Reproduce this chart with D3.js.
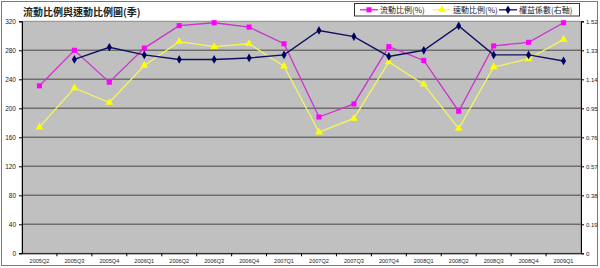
<!DOCTYPE html>
<html><head><meta charset="utf-8">
<script src="https://cdn.jsdelivr.net/npm/d3@7"></script>
<style>body{margin:0;background:#fff}svg{display:block}</style>
</head><body>
<svg id="c" width="600" height="268"></svg>
<script>
const categories = ["2005Q2","2005Q3","2005Q4","2006Q1","2006Q2","2006Q3","2006Q4","2007Q1","2007Q2","2007Q3","2007Q4","2008Q1","2008Q2","2008Q3","2008Q4","2009Q1"];
const currentRatio = [231,280,236,283,314,318,312,289,188,206,285,266,196,286,291,318];
const quickRatio = [174,228,208,259,292,285,289,258,167,186,264,233,172,257,268,295];
const equityMultiplier = [null,1.27,1.35,1.30,1.27,1.27,1.28,1.30,1.46,1.42,1.29,1.33,1.49,1.30,1.30,1.26];
const leftTicks = [0,40,80,120,160,200,240,280,320];
const rightTicks = [0,0.19,0.38,0.57,0.76,0.95,1.14,1.33,1.52];
const seriesNames = ["流動比例(%)","速動比例(%)","權益係數(右軸)"];
const title = "流動比例與速動比例圖(季)";

const svg = d3.select("#c");
const X0=22, X1=581, Y0=21.3, Y1=253.3;
const x = d3.scaleBand().domain(categories).range([X0,X1]);
const yL = d3.scaleLinear().domain([0,320]).range([Y1,Y0]);
const yR = d3.scaleLinear().domain([0,1.52]).range([Y1,Y0]);
const cx = d => x(d)+x.bandwidth()/2;

// outer frame
svg.append("rect").attr("x",1.5).attr("y",1.5).attr("width",596).attr("height",264)
  .attr("fill","#fff").attr("stroke","#7a7a7a").attr("stroke-width",1);

// plot area
svg.append("rect").attr("x",X0).attr("y",Y0).attr("width",X1-X0).attr("height",Y1-Y0)
  .attr("fill","#c0c0c0").attr("stroke","#8a8a8a").attr("stroke-width",1);

// gridlines
svg.append("g").selectAll("line").data(leftTicks.slice(1,-1)).join("line")
  .attr("x1",X0).attr("x2",X1).attr("y1",d=>yL(d)).attr("y2",d=>yL(d))
  .attr("stroke","#6e6e6e").attr("stroke-width",1.4);

// axes
const axL = svg.append("g").attr("transform",`translate(${X0},0)`)
  .call(d3.axisLeft(yL).tickValues(leftTicks).tickSize(3).tickPadding(3).tickFormat(d3.format("d")));
const axR = svg.append("g").attr("transform",`translate(${X1},0)`)
  .call(d3.axisRight(yR).tickValues(rightTicks).tickSize(3).tickPadding(2).tickFormat(d=>d===0?"0":d3.format(".2f")(d)));
const axB = svg.append("g").attr("transform",`translate(0,${Y1})`)
  .call(d3.axisBottom(x).tickSize(0).tickPadding(6));
// boundary ticks on x axis
svg.append("g").selectAll("line").data(categories.slice(1)).join("line")
  .attr("x1",d=>x(d)).attr("x2",d=>x(d)).attr("y1",Y1).attr("y2",Y1+3)
  .attr("stroke","#000").attr("stroke-width",1);
[axL,axR,axB].forEach(a=>{
  a.select(".domain").attr("stroke","#000").attr("stroke-width",1);
  a.selectAll(".tick line").attr("stroke","#000");
  a.selectAll("text").attr("font-family","Liberation Sans, Arial, sans-serif").attr("fill","#222");
});
axL.selectAll("text").attr("font-size",6.5);
axR.selectAll("text").attr("font-size",6);
axB.selectAll("text").attr("font-size",5.6);

// lines
const lineL = d3.line().defined(d=>d.v!=null).x(d=>cx(d.c)).y(d=>yL(d.v));
const lineR = d3.line().defined(d=>d.v!=null).x(d=>cx(d.c)).y(d=>yR(d.v));
const mk = arr => categories.map((c,i)=>({c, v:arr[i]}));
const dCur = mk(currentRatio), dQuick = mk(quickRatio), dEq = mk(equityMultiplier);

svg.append("path").datum(dQuick).attr("d",lineL).attr("fill","none").attr("stroke","#f5f55a").attr("stroke-width",1.3);
svg.append("path").datum(dCur).attr("d",lineL).attr("fill","none").attr("stroke","#cc33cc").attr("stroke-width",1.3);
svg.append("path").datum(dEq).attr("d",lineR).attr("fill","none").attr("stroke","#101060").attr("stroke-width",1.4);

const sq = d3.symbol().type(d3.symbolSquare).size(26);
const tri = d3.symbol().type(d3.symbolTriangle).size(26);
const dia = d3.symbol().type(d3.symbolDiamond).size(22);

svg.append("g").selectAll("path").data(dQuick.filter(d=>d.v!=null)).join("path")
  .attr("d",tri).attr("transform",d=>`translate(${cx(d.c)},${yL(d.v)})`).attr("fill","#ffff00");
svg.append("g").selectAll("path").data(dCur.filter(d=>d.v!=null)).join("path")
  .attr("d",sq).attr("transform",d=>`translate(${cx(d.c)},${yL(d.v)})`).attr("fill","#ff00ff");
svg.append("g").selectAll("path").data(dEq.filter(d=>d.v!=null)).join("path")
  .attr("d",dia).attr("transform",d=>`translate(${cx(d.c)},${yR(d.v)})`).attr("fill","#000060");

// title
svg.append("text").attr("x",23).attr("y",15.5).text(title)
  .attr("font-family","Noto Sans CJK TC").attr("font-weight","bold").attr("font-size",10).attr("fill","#222");

// legend
const lg = svg.append("g");
lg.append("rect").attr("x",354.5).attr("y",3.5).attr("width",225).attr("height",12.5)
  .attr("fill","#fff").attr("stroke","#333").attr("stroke-width",1);
const legItems = [
  {name:seriesNames[0], color:"#cc33cc", mcol:"#ff00ff", sym:sq, x:360},
  {name:seriesNames[1], color:"#f5f55a", mcol:"#ffff00", sym:tri, x:433},
  {name:seriesNames[2], color:"#101060", mcol:"#000060", sym:dia, x:499}
];
legItems.forEach(it=>{
  lg.append("line").attr("x1",it.x).attr("x2",it.x+18).attr("y1",9.8).attr("y2",9.8)
    .attr("stroke",it.color).attr("stroke-width",1.3);
  lg.append("path").attr("d",it.sym).attr("transform",`translate(${it.x+9},9.8)`).attr("fill",it.mcol);
  lg.append("text").attr("x",it.x+20).attr("y",12.8).text(it.name)
    .attr("font-family","Noto Sans CJK TC").attr("font-size",8).attr("fill","#222");
});
</script>
</body></html>
